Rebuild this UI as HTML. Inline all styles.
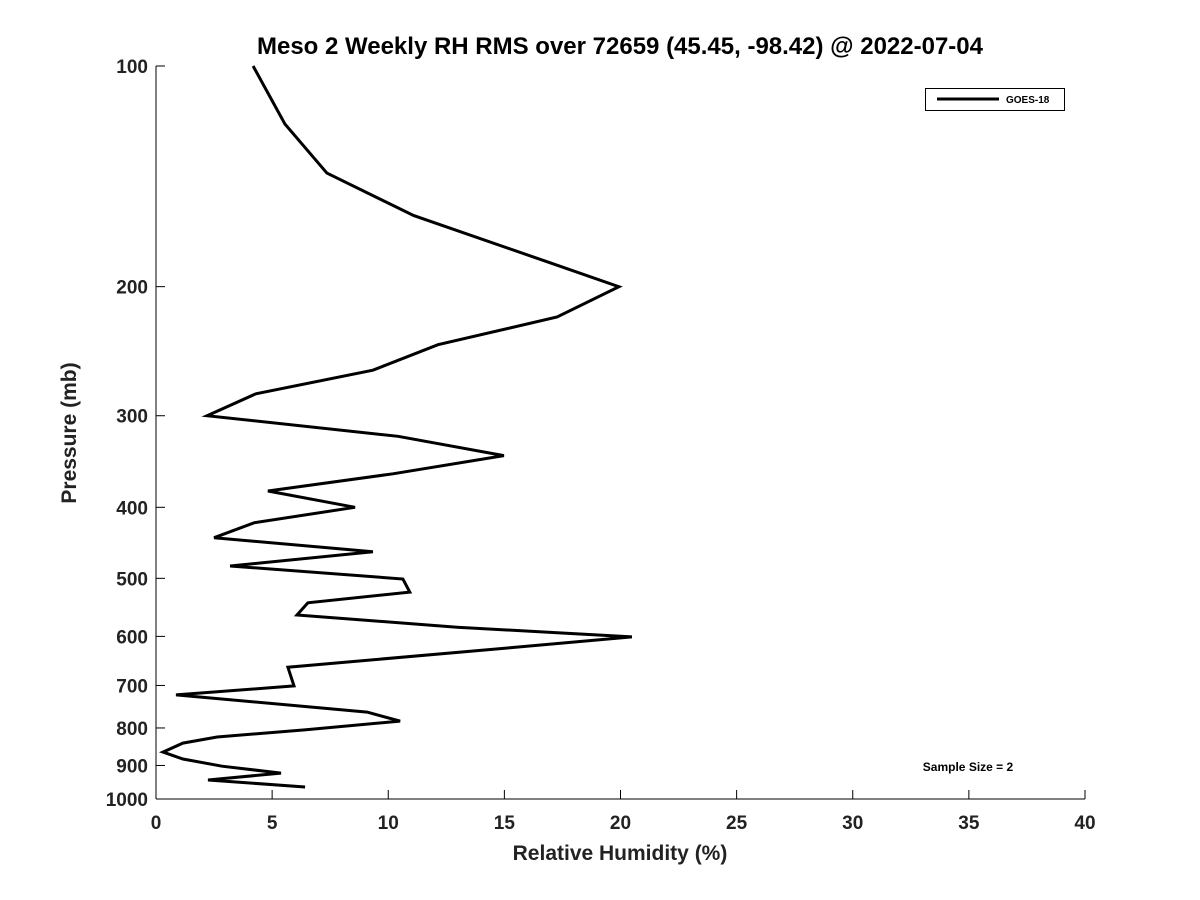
<!DOCTYPE html>
<html><head><meta charset="utf-8"><style>
body{margin:0;background:#fff;}
svg{display:block;font-family:"Liberation Sans","DejaVu Sans",sans-serif;font-weight:bold;}
</style></head><body>
<svg id="chart" width="1200" height="900" viewBox="0 0 1200 900">
<rect width="1200" height="900" fill="#fff"/>
<text x="620" y="54" font-size="24" text-anchor="middle" fill="#000">Meso 2 Weekly RH RMS over 72659 (45.45, -98.42) @ 2022-07-04</text>
<g id="axes"></g>
<polyline id="series" fill="none" stroke="#000" stroke-width="3" stroke-linejoin="miter"/>
<g>
<rect x="925.5" y="88.5" width="139" height="22" fill="#fff" stroke="#000" stroke-width="1"/>
<line x1="937" y1="99" x2="999" y2="99" stroke="#000" stroke-width="3"/>
<text x="1006" y="103" font-size="10" fill="#000">GOES-18</text>
</g>
<text x="968" y="771" font-size="12" text-anchor="middle" fill="#000">Sample Size = 2</text>
<text x="620" y="860" font-size="21" text-anchor="middle" fill="#222">Relative Humidity (%)</text>
<text transform="translate(76,433) rotate(-90)" font-size="21" text-anchor="middle" fill="#222">Pressure (mb)</text>
</svg>
<script>
const rhValues=[4.18,5.55,7.36,11.1,16.85,19.93,17.27,12.14,9.34,4.3,2.2,10.42,14.98,10.2,4.82,8.57,4.22,2.5,9.34,3.19,10.63,10.93,6.54,6.07,12.96,20.49,15.24,5.68,5.94,0.86,9.09,10.51,6.4,2.63,1.16,0.3,1.16,2.84,5.38,2.24,6.42];
const pressures=[100,120,140,160,185,200,220,240,260,280,300,320,340,360,380,400,420,440,460,481,501,522,540,561,583,601,622,661,701,721,761,783,805,823,839,863,882,902,922,942,963];
const xTicks=[0,5,10,15,20,25,30,35,40];
const yTicks=[100,200,300,400,500,600,700,800,900,1000];
const X0=156,X1=1085,Y0=66,Y1=799;
function xs(v){return X0+(v-0)/(40-0)*(X1-X0);}
function ys(p){return Y0+Math.log10(p/100)*(Y1-Y0);}
const ns="http://www.w3.org/2000/svg";
const axes=document.getElementById('axes');
function mk(t,a){const e=document.createElementNS(ns,t);for(const k in a)e.setAttribute(k,a[k]);return e;}
const xl=mk('line',{x1:X0,y1:Y1,x2:X1,y2:Y1,stroke:'#000','stroke-width':1});


axes.appendChild(xl);
const yl=mk('line',{x1:X0,y1:Y0,x2:X0,y2:Y1,stroke:'#000','stroke-width':1});


axes.appendChild(yl);
xTicks.forEach(v=>{const x=xs(v);
const t=mk('line',{x1:x,y1:Y1,x2:x,y2:Y1-9,stroke:'#000','stroke-width':1});


axes.appendChild(t);
const l=mk('text',{x:x,y:Y1+30,'font-size':19,'text-anchor':'middle',fill:'#222'});l.textContent=v;


axes.appendChild(l);});
yTicks.forEach(v=>{const y=ys(v);
const t=mk('line',{x1:X0,y1:y,x2:X0+9,y2:y,stroke:'#000','stroke-width':1});


axes.appendChild(t);
const l=mk('text',{x:X0-8,y:y+7,'font-size':19,'text-anchor':'end',fill:'#222'});l.textContent=v;


axes.appendChild(l);});
document.getElementById('series').setAttribute('points',rhValues.map((v,i)=>xs(v).toFixed(1)+','+ys(pressures[i]).toFixed(1)).join(' '));
</script>
</body></html>
